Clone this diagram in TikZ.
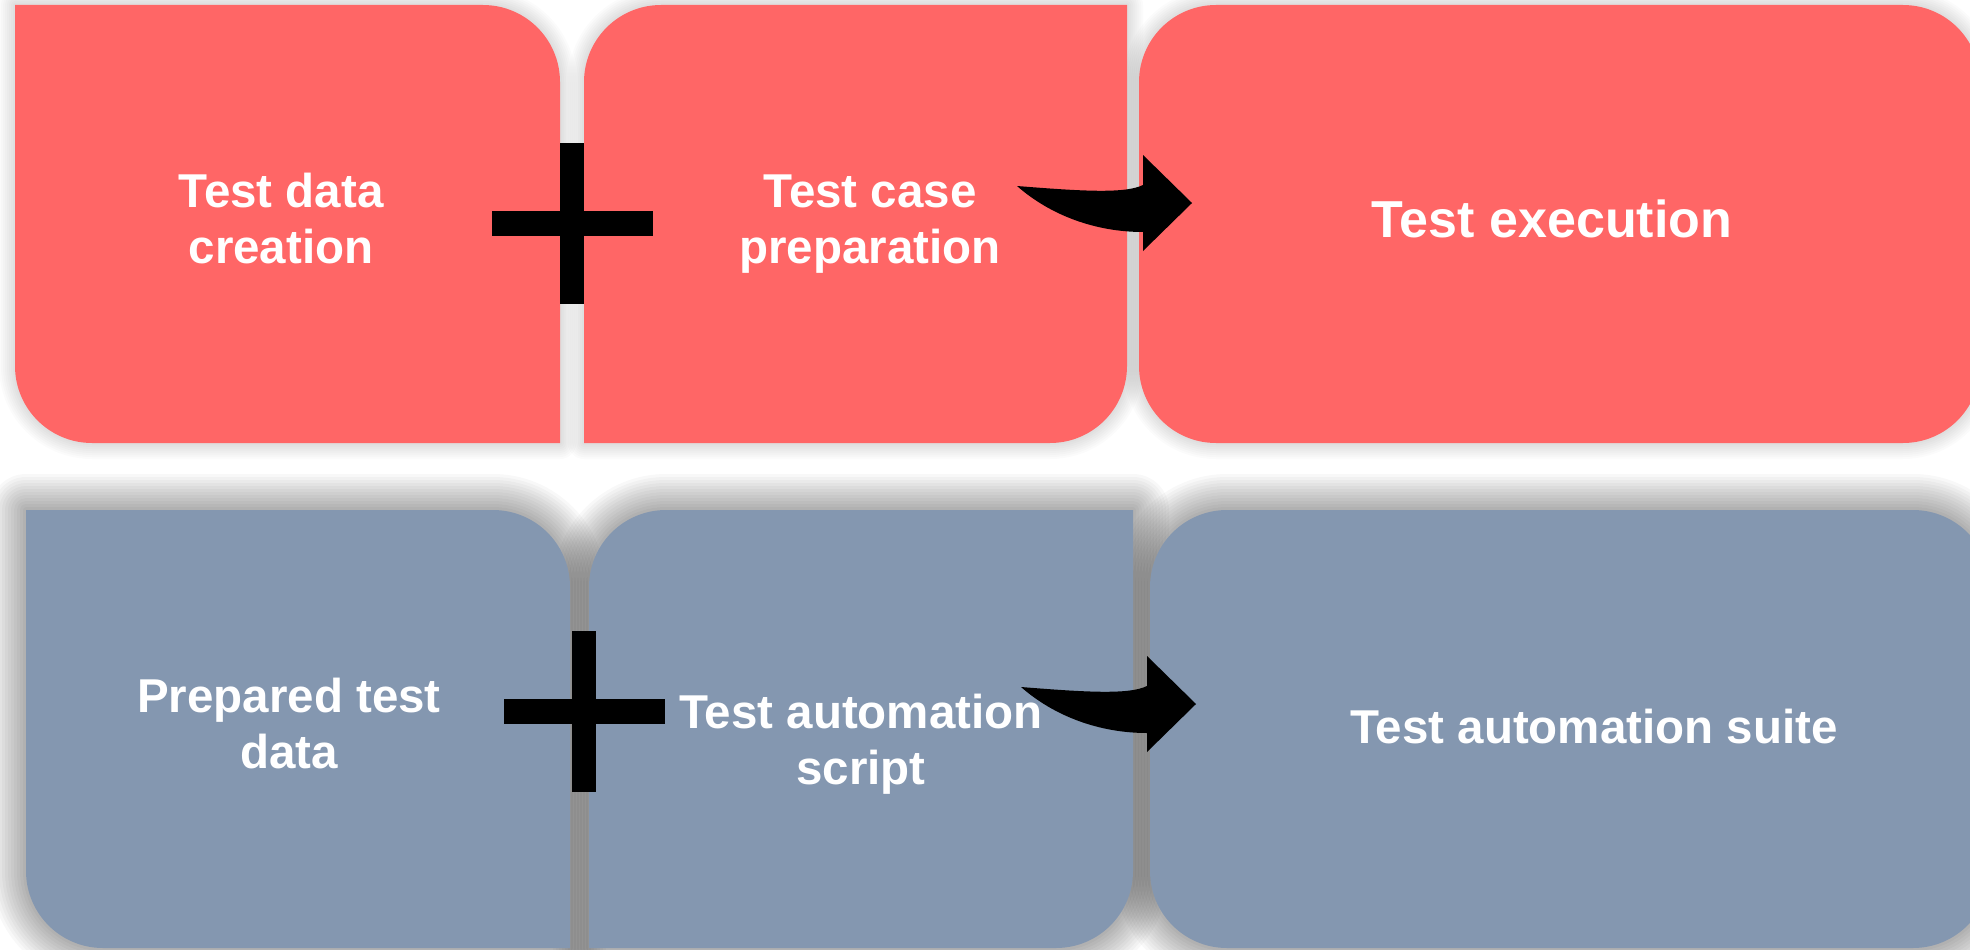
\documentclass[tikz,border=0pt]{standalone}
\usepackage{fontspec}
\setmainfont{Liberation Sans}
\definecolor{tilered}{HTML}{FF6666}
\definecolor{tileblue}{HTML}{8497B0}

% #1 options, #2..#5 = x1,y1,x2,y2, #6..#9 = corner radii TL,TR,BR,BL (0 = sharp)
\newcommand\tile[9]{%
  \path[#1] ({#2+#6},#3) -- ({#4-#7},#3)
    .. controls ({#4-#7+0.5523*#7},#3) and (#4,{#3+#7-0.5523*#7}) .. (#4,{#3+#7})
    -- (#4,{#5-#8})
    .. controls (#4,{#5-#8+0.5523*#8}) and ({#4-#8+0.5523*#8},#5) .. ({#4-#8},#5)
    -- ({#2+#9},#5)
    .. controls ({#2+#9-0.5523*#9},#5) and (#2,{#5-#9+0.5523*#9}) .. (#2,{#5-#9})
    -- (#2,{#3+#6})
    .. controls (#2,{#3+#6-0.5523*#6}) and ({#2+#6-0.5523*#6},#3) .. ({#2+#6},#3)
    -- cycle;}

\tikzset{
  label/.style={text=white, font=\bfseries\fontsize{47.5}{56}\selectfont,
                align=center, inner sep=0pt},
  plussign/.pic={
    \fill[black] (-12,-80.5) rectangle (12,80.5);
    \fill[black] (-80.5,-12.5) rectangle (80.5,12.5);
  },
  bendarrow/.pic={
    \fill[black] (0,0) .. controls (63,5) and (108,8) .. (126,-1)
      -- (126,-31) -- (175,17) -- (126,65) -- (126,46)
      .. controls (78,46) and (33,29) .. (0,0) -- cycle;
  }
}

\begin{document}
\begin{tikzpicture}[x=1pt,y=-1pt]
\useasboundingbox (0,0) rectangle (1970,950);
\fill[white] (0,0) rectangle (1970,950);
\clip (0,0) rectangle (1970,950);

% upper row: soft light shadows
\foreach \w in {2,4,...,16} {
  \tile{draw=black, draw opacity=0.016, line width=\w*2pt, line join=round}{15}{5}{560}{443}{0}{77}{0}{77}
  \tile{draw=black, draw opacity=0.016, line width=\w*2pt, line join=round}{584}{5}{1127}{443}{77}{0}{77}{0}
  \tile{draw=black, draw opacity=0.016, line width=\w*2pt, line join=round}{1139}{5}{1980}{443}{77}{77}{77}{77}
}
% upper row tiles
\tile{fill=tilered}{15}{5}{560}{443}{0}{77}{0}{77}
\tile{fill=tilered}{584}{5}{1127}{443}{77}{0}{77}{0}
\tile{fill=tilered}{1139}{5}{1980}{443}{77}{77}{77}{77}

% lower row: heavier shadows
\foreach \w in {3,6,...,36} {
  \tile{draw=black, draw opacity=0.026, line width=\w*2pt, line join=round}{26}{510}{570}{948}{0}{77}{0}{77}
  \tile{draw=black, draw opacity=0.026, line width=\w*2pt, line join=round}{589}{510}{1133}{948}{77}{0}{77}{0}
  \tile{draw=black, draw opacity=0.026, line width=\w*2pt, line join=round}{1150}{510}{1990}{948}{77}{77}{77}{77}
}
% lower row tiles
\tile{fill=tileblue}{26}{510}{570}{948}{0}{77}{0}{77}
\tile{fill=tileblue}{589}{510}{1133}{948}{77}{0}{77}{0}
\tile{fill=tileblue}{1150}{510}{1990}{948}{77}{77}{77}{77}

% labels
\node[label] (tdc) at (281,219) {Test data\\creation};
\node[label] (tcp) at (870,224) {Test case\\preparation};
\node[label, font=\bfseries\fontsize{52}{60}\selectfont] (tex) at (1552,219) {Test execution};
\node[label] (ptd) at (289,724) {Prepared test\\data};
\node[label] (tas) at (861,744) {Test automation\\script};
\node[label] (tau) at (1594,727) {Test automation suite};

% plus signs and bent arrows between the tiles
\coordinate (plusA) at (572,223);
\coordinate (plusB) at (584,711);
\coordinate (arrA) at (1017,186);
\coordinate (arrB) at (1021,687);
\pic at (plusA) {plussign};
\pic at (plusB) {plussign};
\pic at (arrA) {bendarrow};
\pic at (arrB) {bendarrow};
\end{tikzpicture}
\end{document}
